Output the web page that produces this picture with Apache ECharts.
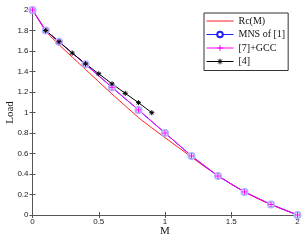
<!DOCTYPE html>
<html><head><meta charset="utf-8">
<script src="https://cdn.jsdelivr.net/npm/echarts@6/dist/echarts.min.js"></script>
<style>html,body{margin:0;padding:0;background:#fff}#c{width:306px;height:241px}</style>
</head><body><div id="c"></div>
<script>
const rcM = [0,0.1,0.2,0.3,0.4,0.5,0.6,0.7,0.8,0.9,1.0,1.1,1.2,1.3,1.4,1.5,1.6,1.7,1.8,1.9,2.0];
const rcLoad = [2,1.79,1.66,1.54,1.42,1.30,1.18,1.065,0.95,0.85,0.755,0.66,0.565,0.47,0.385,0.30,0.225,0.16,0.10,0.05,0];
const mnsM = [0,0.1,0.2,0.4,0.6,0.8,1.0,1.2,1.4,1.6,1.8,2.0];
const mnsLoad = [2,1.8,1.69,1.47,1.245,1.025,0.80,0.576,0.38,0.225,0.103,0];
const gccM = [0,0.1,0.2,0.4,0.6,0.8,1.0,1.2,1.4,1.6,1.8,2.0];
const gccLoad = [2,1.8,1.69,1.47,1.245,1.025,0.80,0.576,0.38,0.225,0.103,0];
const r4M = [0.1,0.2,0.3,0.4,0.5,0.6,0.7,0.8,0.9];
const r4Load = [1.8,1.69,1.58,1.475,1.378,1.28,1.187,1.096,0.998];
const names = ['Rc(M)','MNS of [1]','[7]+GCC','[4]'];
const xTicks = {min:0,max:2,interval:0.5};
const yTicks = {min:0,max:2,interval:0.2};

const pair = (xs, ys) => xs.map((x,i)=>[x,ys[i]]);
const axisCol = '#555';
const tickFont = {fontFamily:'Liberation Sans, Arial, sans-serif', fontSize:8, color:'#222'};
const nameFont = {fontFamily:'Liberation Serif, Times New Roman, serif', fontSize:11, color:'#111'};
const chart = echarts.init(document.getElementById('c'), null, {renderer:'canvas'});
const plusPath = 'path://M5,0L5,10M0,5L10,5';
const starPath = 'path://M5,0L5,10M0,5L10,5M1.5,1.5L8.5,8.5M1.5,8.5L8.5,1.5';
const redCol = '#ff2020', blueCol = '#2020ff', magCol = '#ff00ff';
chart.setOption({
  animation:false,
  grid:{left:32.5,right:8.5,top:10,bottom:26,show:false,outerBoundsMode:'none',containLabel:false},
  legend:{
    orient:'vertical', left:204, top:13,
    backgroundColor:'#fff', borderColor:'#333', borderWidth:1,
    padding:[3,3,4,2], itemGap:3.5, itemWidth:27, itemHeight:7,
    textStyle:{fontFamily:'Liberation Serif, Times New Roman, serif', fontSize:10, color:'#111'},
    data:[
      {name:names[0], icon:'path://M0,0L27,0L27,1L0,1Z', itemStyle:{color:redCol, borderWidth:0}},
      {name:names[1], itemStyle:{color:blueCol, borderColor:blueCol, borderWidth:1}, lineStyle:{color:blueCol,width:1,type:'solid'}},
      {name:names[2], itemStyle:{color:magCol, borderColor:magCol, borderWidth:1}, lineStyle:{color:magCol,width:1,type:'solid'}},
      {name:names[3], itemStyle:{color:'#000', borderColor:'#000', borderWidth:1}, lineStyle:{color:'#000',width:1,type:'solid'}}
    ]
  },
  xAxis:[
    {type:'value', min:xTicks.min, max:xTicks.max, interval:xTicks.interval,
     name:'M', nameLocation:'middle', nameGap:11, nameMoveOverlap:false, nameTextStyle:nameFont,
     axisLine:{lineStyle:{color:axisCol,width:1}}, axisTick:{inside:true,length:3,lineStyle:{color:axisCol}},
     axisLabel:{...tickFont, margin:3}, splitLine:{show:false}},
    {type:'value', position:'top', min:xTicks.min, max:xTicks.max, interval:xTicks.interval,
     axisLine:{lineStyle:{color:axisCol,width:1}}, axisTick:{inside:true,length:3,lineStyle:{color:axisCol}},
     axisLabel:{show:false}, splitLine:{show:false}}
  ],
  yAxis:[
    {type:'value', min:yTicks.min, max:yTicks.max, interval:yTicks.interval,
     name:'Load', nameLocation:'middle', nameGap:17, nameMoveOverlap:false, nameTextStyle:nameFont,
     axisLine:{show:true,lineStyle:{color:axisCol,width:1}}, axisTick:{show:true,inside:true,length:3,lineStyle:{color:axisCol}},
     axisLabel:{...tickFont, margin:4}, splitLine:{show:false}},
    {type:'value', position:'right', min:yTicks.min, max:yTicks.max, interval:yTicks.interval,
     axisLine:{show:true,lineStyle:{color:axisCol,width:1}}, axisTick:{show:true,inside:true,length:3,lineStyle:{color:axisCol}},
     axisLabel:{show:false}, splitLine:{show:false}}
  ],
  series:[
    {name:names[0], type:'line', data:pair(rcM,rcLoad), symbol:'none', smooth:false,
     lineStyle:{color:redCol,width:1}, itemStyle:{color:redCol}},
    {name:names[1], type:'line', data:pair(mnsM,mnsLoad), symbol:'emptyCircle', symbolSize:6,
     lineStyle:{color:blueCol,width:1}, itemStyle:{color:'#b0b0ff',borderColor:blueCol,borderWidth:1}},
    {name:names[2], type:'line', data:pair(gccM,gccLoad), symbol:plusPath, symbolSize:5,
     lineStyle:{color:magCol,width:1}, itemStyle:{color:magCol,borderColor:magCol,borderWidth:1}},
    {name:names[3], type:'line', data:pair(r4M,r4Load), symbol:starPath, symbolSize:5,
     lineStyle:{color:'#000',width:1}, itemStyle:{color:'#000',borderColor:'#000',borderWidth:1}}
  ]
});
</script></body></html>
